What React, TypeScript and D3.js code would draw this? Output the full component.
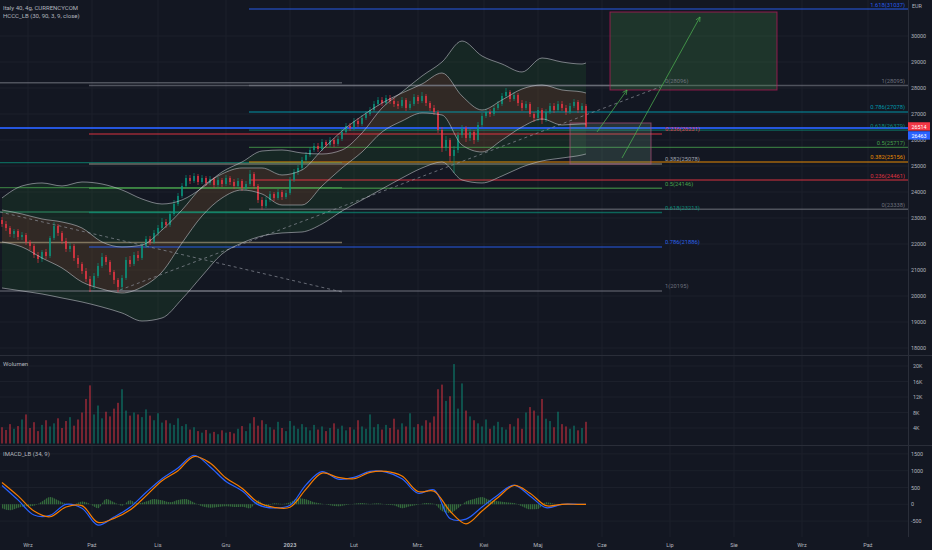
import * as d3 from "d3";

// ---- price data (4h bars, EUR) ----
const firstOpen = 22924;
const closes = [
  22770, 22616, 22385, 22500, 22270, 22347, 22078, 21924, 21577, 21424,
  21693, 21539, 22232, 22693, 22424, 22116, 21809, 21924, 21462, 21232,
  20962, 20655, 20385, 20770, 21155, 21500, 21309, 20924, 20616, 20347,
  20693, 21385, 21232, 21577, 21462, 21924, 22193, 22078, 22424, 22616,
  22847, 22732, 23154, 23539, 23847, 24232, 24539, 24424, 24616, 24385,
  24539, 24347, 24501, 24270, 24462, 24308, 24539, 24385, 24232, 24424,
  24155, 24308, 24693, 24232, 23693, 23462, 23693, 23924, 23770, 24000,
  23808, 23962, 24462, 24770, 24924, 25231, 25424, 25616, 25770, 25654,
  25923, 25808, 26000, 25847, 26039, 26308, 26539, 26462, 26731, 26616,
  26847, 27000, 27154, 27385, 27539, 27423, 27616, 27500, 27385, 27308,
  27539, 27231, 27385, 27654, 27500, 27693, 27423, 27231, 27077, 26385,
  25693, 26000, 25385, 25616, 26193, 26462, 26077, 26308, 26000, 26577,
  26924, 27077, 27000, 27231, 27385, 27693, 27847, 27577, 27731, 27423,
  27231, 27385, 27000, 26847, 27154, 26770, 27077, 27308, 27154, 27385,
  27231, 27077, 27308, 27462, 27154, 27308, 26514,
];
const highs = [
  23039, 22885, 22693, 22578, 22578, 22462, 22424, 22155, 22001, 21693,
  21770, 21809, 22309, 22847, 22770, 22500, 22232, 22039, 22001, 21577,
  21309, 21078, 20770, 20885, 21270, 21655, 21577, 21385, 21001, 20693,
  20809, 21500, 21539, 21693, 21732, 22039, 22309, 22309, 22539, 22732,
  23001, 22962, 23270, 23693, 23962, 24347, 24655, 24655, 24731, 24693,
  24655, 24616, 24616, 24578, 24578, 24539, 24655, 24616, 24501, 24539,
  24501, 24424, 24847, 24770, 24308, 23808, 23808, 24039, 24000, 24116,
  24078, 24078, 24578, 24885, 25039, 25347, 25539, 25731, 25885, 25885,
  26039, 26000, 26116, 26077, 26154, 26424, 26654, 26654, 26847, 26847,
  26962, 27116, 27270, 27500, 27654, 27654, 27731, 27731, 27616, 27500,
  27654, 27616, 27500, 27770, 27731, 27847, 27770, 27500, 27347, 27154,
  26501, 26154, 26077, 25770, 26308, 26577, 26539, 26424, 26385, 26693,
  27039, 27193, 27193, 27347, 27500, 27808, 28000, 27924, 27847, 27808,
  27539, 27500, 27462, 27077, 27270, 27231, 27193, 27423, 27423, 27500,
  27500, 27347, 27423, 27577, 27539, 27423, 27385,
];
const lows = [
  22655, 22500, 22270, 22232, 22155, 22155, 21962, 21770, 21462, 21270,
  21309, 21424, 21462, 22155, 22309, 22001, 21693, 21693, 21347, 21078,
  20847, 20539, 20155, 20270, 20693, 21078, 21193, 20809, 20462, 20155,
  20232, 20616, 21116, 21155, 21347, 21385, 21847, 21962, 22001, 22309,
  22539, 22616, 22655, 23078, 23462, 23770, 24155, 24308, 24347, 24270,
  24308, 24232, 24270, 24155, 24193, 24193, 24232, 24270, 24116, 24155,
  24039, 24078, 24232, 24116, 23577, 23308, 23385, 23616, 23654, 23693,
  23693, 23731, 23885, 24385, 24655, 24847, 25154, 25347, 25539, 25539,
  25577, 25693, 25731, 25731, 25770, 25962, 26231, 26347, 26385, 26501,
  26539, 26770, 26924, 27077, 27308, 27308, 27347, 27385, 27270, 27193,
  27231, 27116, 27154, 27308, 27385, 27423, 27308, 27116, 26962, 26270,
  25539, 25577, 25154, 24731, 25500, 26077, 25923, 25962, 25847, 25923,
  26501, 26847, 26885, 26924, 27154, 27308, 27616, 27462, 27500, 27308,
  27116, 27154, 26885, 26693, 26731, 26616, 26693, 27000, 27039, 27077,
  27116, 26962, 27000, 27231, 27039, 27039, 26462,
];
// volume in thousands per bar
const volumes = [
  4.2, 3.5, 5.0, 3.8, 4.5, 6.2, 7.5, 4.0, 5.5, 3.2, 4.8, 6.0, 4.4,
  5.2, 6.5, 4.0, 5.8, 6.8, 4.6, 6.2, 8.0, 11.5, 15.0, 7.5, 9.8,
  6.5, 8.2, 7.0, 9.0, 10.5, 14.0, 8.5, 7.2, 8.0, 7.5, 6.8, 8.8, 7.2, 6.0, 7.8, 5.4,
  6.0, 5.2, 4.8, 6.5, 4.5, 5.0, 3.6, 4.2, 3.2, 2.8, 3.5, 2.6, 3.0, 2.4, 3.4, 2.8,
  3.0, 2.6, 3.8, 4.5, 3.2, 5.2, 6.8, 4.6, 6.0, 5.0, 4.2, 3.6, 5.6, 4.0, 3.2, 5.8,
  4.6, 3.8, 5.0, 4.2, 3.4, 4.8, 3.6, 4.4, 3.2, 4.0, 5.2, 3.8, 4.6, 3.4, 4.2, 3.6,
  6.0, 4.4, 3.8, 7.5, 4.2, 5.0, 3.6, 4.8, 4.0, 6.4, 3.6, 5.2, 4.4, 7.8, 4.2, 5.0,
  4.6, 6.0, 5.4, 7.0, 14.0, 15.2, 11.0, 12.2, 20.5, 9.0, 15.5, 8.5,
  7.0, 6.0, 5.2, 4.4, 6.2, 3.8, 4.6, 5.6, 4.2, 3.6, 5.0, 4.4, 6.5, 3.8, 8.0, 9.4,
  8.5, 7.2, 11.5, 6.4, 5.8, 4.2, 8.2, 5.0, 4.4, 3.8, 4.6, 3.4, 4.0, 5.6,
];

// ---- HCCC_LB bands, sampled every 5 bars ----
const bandBars = [0, 5, 10, 15, 20, 25, 30, 35, 40, 45, 50, 55, 60, 65, 70, 75, 80, 85, 90, 95, 100, 105, 110, 115, 120, 125, 130, 135, 140, 145, 146];
const outerUpper = [23770, 24232, 24347, 24232, 24385, 24308, 24078, 23731, 23539, 23693, 24155, 24770, 25154, 25577, 25616, 25500, 25462, 25616, 26270, 27231, 27847, 28462, 29000, 29808, 29231, 28923, 28616, 29154, 29000, 28923, 28962];
const outerLower = [20309, 20193, 20078, 19924, 19770, 19578, 19347, 19039, 19155, 19885, 20770, 21616, 22039, 22309, 22424, 22462, 22770, 23270, 23693, 24116, 24539, 24924, 25154, 24462, 24347, 24616, 24962, 25193, 25308, 25424, 25462];
const innerUpper = [23308, 23154, 22962, 22847, 22616, 22078, 21886, 21962, 22539, 23308, 24193, 24693, 24924, 24924, 24655, 24847, 25616, 26347, 26924, 27423, 27808, 28154, 28577, 27693, 27154, 27539, 27962, 28116, 27924, 27847, 27808];
const innerLower = [22078, 21886, 21462, 21078, 20539, 20270, 20116, 20347, 20924, 22039, 23078, 23770, 24078, 23924, 23500, 23500, 24232, 24924, 25539, 26308, 26731, 27039, 26962, 25808, 25539, 26000, 26501, 26808, 26577, 26616, 26616];

// ---- IMACD_LB (34, 9), sampled every 4 bars ----
const macdBars = [0, 4, 8, 12, 16, 20, 24, 28, 32, 36, 40, 44, 48, 52, 56, 60, 64, 68, 72, 76, 80, 84, 88, 92, 96, 100, 104, 108, 112, 116, 120, 124, 128, 132, 136, 140, 144, 146];
const macdLine = [560, 130, -320, -330, 0, -120, -620, -380, -90, 350, 760, 1080, 1460, 1120, 680, 400, -10, -110, -30, 580, 970, 750, 800, 980, 960, 760, 330, 430, -420, -440, -80, 280, 570, 250, -100, 0, 0, 0];
const signalLine = [650, 250, -200, -370, -80, -40, -540, -420, -170, 250, 700, 1000, 1420, 1230, 780, 480, 60, -90, -90, 450, 930, 800, 760, 950, 980, 840, 380, 390, -200, -580, -200, 200, 560, 330, -40, 0, 0, 0];
// histogram every 2 bars
const histogram = [
  -120, -180, -100, -60, -40, 80, 220, 120, 20, 0,
  80, 10, -120, 160, 60, -40, 120, 20, 80, 160,
  120, 60, 130, 160, 50, -60, -100, -80, -60, -80,
  -70, -120, 120, -80, 30, 10, 60, 180, 150, 60,
  20, -30, -60, -20, 20, 40, 10, 30, -10, -30,
  -120, -60, -10, 40, 20, -200, -260, -120, 80, 160,
  220, 120, 90, 60, 40, -60, -150, -140, 60, 20,
  0, 0, 0, 0,
];

// ---- axes ----
const monthLabels = ["Wrz", "Paź", "Lis", "Gru", "2023", "Lut", "Mrz.", "Kwi", "Maj", "Cze", "Lip", "Sie", "Wrz", "Paź"];
const monthBars = [6.5, 22.5, 39, 56, 72, 88, 104, 120.5, 134, 150, 167, 183, 200, 216.5];
const priceTicks = [30000, 29000, 28000, 27000, 26000, 25000, 24000, 23000, 22000, 21000, 20000, 19000, 18000];
const volumeTicks = [4000, 8000, 12000, 16000, 20000];
const macdTicks = [1500, 1000, 500, 0, -500];

// ---- drawings ----
const fibALevels = [0, 0.236, 0.382, 0.5, 0.618, 0.786, 1];
const fibAPrices = [28096, 26231, 25078, 24146, 23213, 21886, 20195];
const fibAColors = ["#787b86", "#f23645", "#a39c8e", "#4caf50", "#089981", "#2962ff", "#787b86"];
const fibAText = ["#787b86", "#f23645", "#b2b5be", "#4caf50", "#089981", "#2f6bff", "#787b86"];
const fibAStart = 21.75, fibAEnd = 165;

const fibBPrices = [20195, 22060, 23230, 24170, 25130, 28200];
const fibBColors = ["#787b86", "#b8a886", "#2e9e6e", "#4caf50", "#089981", "#787b86"];
const fibBEnd = 85;

const fibCLevels = [0, 0.236, 0.382, 0.5, 0.618, 0.786, 1, 1.618];
const fibCPrices = [23338, 24461, 25156, 25717, 26379, 27078, 28095, 31037];
const fibCColors = ["#787b86", "#f23645", "#ff9800", "#4caf50", "#089981", "#00a3b8", "#787b86", "#2962ff"];
const fibCStart = 61.75;

const horizontalLine = 26463;
const lastPrice = 26514;

const BG = "#131722";
const TEXT = "#b2b5be";
const FONT = "Roboto, 'Liberation Sans', sans-serif";
const CHART_R = 908;

const App = () => {
  const x = d3.scaleLinear().domain([-0.5, 226.5]).range([0, CHART_R]);
  const y = d3.scaleLinear().domain([18000, 30000]).range([348, 36]);
  const yVol = d3.scaleLinear().domain([0, 20000]).range([443.5, 366]);
  const yMacd = d3.scaleLinear().domain([-500, 1500]).range([521.1, 453.9]);

  const bands = bandBars.map((b, k) => ({
    b,
    ou: outerUpper[k],
    ol: outerLower[k],
    iu: innerUpper[k],
    il: innerLower[k],
  }));
  const curve = d3.curveMonotoneX;
  const outerArea = d3.area<typeof bands[0]>().x((d) => x(d.b)).y0((d) => y(d.ol)).y1((d) => y(d.ou)).curve(curve);
  const innerArea = d3.area<typeof bands[0]>().x((d) => x(d.b)).y0((d) => y(d.il)).y1((d) => y(d.iu)).curve(curve);
  const bandLine = (key: "ou" | "ol" | "iu" | "il") =>
    d3.line<typeof bands[0]>().x((d) => x(d.b)).y((d) => y(d[key])).curve(curve)(bands) || "";

  const candles = closes.map((c, i) => {
    const o = i === 0 ? firstOpen : closes[i - 1];
    return { i, o, c, h: Math.max(highs[i], o, c), l: Math.min(lows[i], o, c) };
  });
  const bodyW = 2;

  const macdPts = macdBars.map((b, k) => ({ b, m: macdLine[k], s: signalLine[k] }));
  const macdPath = d3.line<typeof macdPts[0]>().x((d) => x(d.b)).y((d) => yMacd(d.m)).curve(d3.curveCatmullRom)(macdPts) || "";
  const signalPath = d3.line<typeof macdPts[0]>().x((d) => x(d.b)).y((d) => yMacd(d.s)).curve(d3.curveCatmullRom)(macdPts) || "";
  const histArea =
    d3
      .area<number>()
      .x((_, k) => x(k * 2))
      .y0(yMacd(0))
      .y1((d) => yMacd(d))
      .curve(d3.curveMonotoneX)(histogram) || "";

  const fibLine = (x0: number, x1: number, p: number, color: string, key: string) => (
    <line key={key} x1={x(x0)} x2={x(x1)} y1={y(p)} y2={y(p)} stroke={color} strokeWidth={1.4} strokeOpacity={0.6} />
  );

  const arrow = (b0: number, p0: number, b1: number, p1: number, key: string) => {
    const x0 = x(b0), y0 = y(p0), x1 = x(b1), y1 = y(p1);
    const a = Math.atan2(y1 - y0, x1 - x0);
    const s = 5;
    const head = `M${x1 - s * Math.cos(a - 0.45)},${y1 - s * Math.sin(a - 0.45)}L${x1},${y1}L${x1 - s * Math.cos(a + 0.45)},${y1 - s * Math.sin(a + 0.45)}`;
    return (
      <g key={key} stroke="#4caf50" strokeOpacity={0.75} fill="none" strokeWidth={1}>
        <line x1={x0} y1={y0} x2={x1} y2={y1} />
        <path d={head} />
      </g>
    );
  };

  return (
    <svg
      width={932}
      height={550}
      style={{ position: "fixed", left: 0, top: 0, background: BG, fontFamily: FONT }}
    >
      <defs>
        <clipPath id="mainClip">
          <rect x={0} y={0} width={CHART_R} height={355} />
        </clipPath>
        <clipPath id="volClip">
          <rect x={0} y={356} width={CHART_R} height={89} />
        </clipPath>
        <clipPath id="macdClip">
          <rect x={0} y={446} width={CHART_R} height={91} />
        </clipPath>
        <pattern id="histStripes" width={2} height={4} patternUnits="userSpaceOnUse">
          <rect x={0} y={0} width={1.3} height={4} fill="#4caf50" fillOpacity={0.55} />
        </pattern>
      </defs>
      <rect x={0} y={0} width={932} height={550} fill={BG} />

      {/* grid */}
      <g stroke="#1c202b" strokeWidth={1}>
        {monthBars.map((b, k) => (
          <line key={`vg${k}`} x1={x(b)} x2={x(b)} y1={0} y2={537} />
        ))}
        {priceTicks.map((p) => (
          <line key={`hg${p}`} x1={0} x2={CHART_R} y1={y(p)} y2={y(p)} />
        ))}
        {volumeTicks.map((v) => (
          <line key={`vgv${v}`} x1={0} x2={CHART_R} y1={yVol(v)} y2={yVol(v)} />
        ))}
        {macdTicks.map((v) => (
          <line key={`mg${v}`} x1={0} x2={CHART_R} y1={yMacd(v)} y2={yMacd(v)} />
        ))}
      </g>

      {/* main pane */}
      <g clipPath="url(#mainClip)">
        <path d={outerArea(bands) || ""} fill="#2e7d32" fillOpacity={0.16} />
        <path d={innerArea(bands) || ""} fill="#c0392b" fillOpacity={0.16} />

        {/* fib B (left, no labels) */}
        {fibBPrices.map((p, k) => fibLine(-0.5, fibBEnd, p, fibBColors[k], `fb${k}`))}
        {/* fib A */}
        {fibAPrices.map((p, k) => fibLine(fibAStart, fibAEnd, p, fibAColors[k], `fa${k}`))}
        {/* fib C */}
        {fibCPrices.map((p, k) => fibLine(fibCStart, 226.5, p, fibCColors[k], `fc${k}`))}

        <line x1={0} x2={CHART_R} y1={y(horizontalLine)} y2={y(horizontalLine)} stroke="#2962ff" strokeWidth={2} strokeOpacity={0.85} />

        {/* rectangles */}
        <rect
          x={x(152)}
          y={y(30923)}
          width={x(193.75) - x(152)}
          height={y(27924) - y(30923)}
          fill="#4caf50"
          fillOpacity={0.2}
          stroke="#c2185b"
          strokeOpacity={0.7}
          strokeWidth={1}
        />
        <rect
          x={x(142)}
          y={y(26654)}
          width={x(162.25) - x(142)}
          height={y(25077) - y(26654)}
          fill="#6fa082"
          fillOpacity={0.22}
          stroke="#b0507a"
          strokeOpacity={0.7}
          strokeWidth={1}
        />

        {/* dashed trend lines */}
        <g stroke="#8a8e99" strokeWidth={1} strokeDasharray="3 3" strokeOpacity={0.7}>
          <line x1={x(-0.5)} y1={y(23231)} x2={x(85)} y2={y(20154)} />
          <line x1={x(29.5)} y1={y(20231)} x2={x(164.5)} y2={y(28039)} />
        </g>

        {arrow(148.75, 26308, 156.25, 27923, "a1")}
        {arrow(155, 25308, 174.5, 30731, "a2")}

        {/* candles */}
        {candles.map((d) => {
          const up = d.c >= d.o;
          const col = up ? "#089981" : "#f23645";
          const cx = x(d.i);
          const top = y(Math.max(d.o, d.c));
          const h = Math.max(0.8, y(Math.min(d.o, d.c)) - top);
          return (
            <g key={`c${d.i}`} opacity={0.8}>
              <line x1={cx} x2={cx} y1={y(d.h)} y2={y(d.l)} stroke={col} strokeWidth={0.8} />
              <rect x={cx - bodyW / 2} y={top} width={bodyW} height={h} fill={col} />
            </g>
          );
        })}

        {/* band lines */}
        <g fill="none" stroke="#c9cbd1" strokeOpacity={0.62} strokeWidth={0.9}>
          <path d={bandLine("ou")} />
          <path d={bandLine("ol")} />
          <path d={bandLine("iu")} />
          <path d={bandLine("il")} />
        </g>
      </g>

      {/* fib labels */}
      <g fontSize={5.8} opacity={0.9}>
        {fibALevels.map((lv, k) => (
          <text key={`fal${k}`} x={x(fibAEnd) + 3} y={y(fibAPrices[k]) - 2.5} fill={fibAText[k]}>
            {`${lv}(${fibAPrices[k]})`}
          </text>
        ))}
        {fibCLevels.map((lv, k) => (
          <text key={`fcl${k}`} x={905} y={y(fibCPrices[k]) - 2.5} fill={fibCColors[k]} textAnchor="end">
            {`${lv}(${fibCPrices[k]})`}
          </text>
        ))}
      </g>

      {/* volume pane */}
      <g clipPath="url(#volClip)">
        {candles.map((d) => (
          <rect
            key={`v${d.i}`}
            x={x(d.i) - 1}
            y={yVol(volumes[d.i] * 1000)}
            width={2}
            height={yVol(0) - yVol(volumes[d.i] * 1000)}
            fill={d.c >= d.o ? "#089981" : "#f23645"}
            fillOpacity={0.45}
          />
        ))}
      </g>

      {/* macd pane */}
      <g clipPath="url(#macdClip)">
        <path d={histArea} fill="url(#histStripes)" />
        <path d={macdPath} fill="none" stroke="#2962ff" strokeWidth={1.2} />
        <path d={signalPath} fill="none" stroke="#f57c00" strokeWidth={1.2} />
      </g>

      {/* pane separators */}
      <g stroke="#2a2e39" strokeWidth={1}>
        <line x1={0} x2={932} y1={355.5} y2={355.5} />
        <line x1={0} x2={932} y1={445.5} y2={445.5} />
        <line x1={CHART_R + 0.5} x2={CHART_R + 0.5} y1={0} y2={537} />
      </g>

      {/* price axis */}
      <g fontSize={5.4} fill={TEXT}>
        <text x={912} y={8}>EUR</text>
        {priceTicks.map((p) => (
          <text key={`pt${p}`} x={911} y={y(p) + 2}>
            {p}
          </text>
        ))}
        {volumeTicks.map((v) => (
          <text key={`vt${v}`} x={913} y={yVol(v) + 2}>
            {`${v / 1000}K`}
          </text>
        ))}
        {macdTicks.map((v) => (
          <text key={`mt${v}`} x={911} y={yMacd(v) + 2}>
            {v}
          </text>
        ))}
      </g>
      <rect x={908} y={y(lastPrice) - 4.4} width={22} height={8.4} fill="#f23645" />
      <text x={919} y={y(lastPrice) + 1.9} fontSize={5.4} fill="#fff" textAnchor="middle">
        {lastPrice}
      </text>
      <rect x={908} y={y(lastPrice) + 4.6} width={22} height={8.4} fill="#2962ff" />
      <text x={919} y={y(lastPrice) + 10.9} fontSize={5.4} fill="#fff" textAnchor="middle">
        {horizontalLine}
      </text>

      {/* time axis */}
      <g fontSize={5.6} fill={TEXT} textAnchor="middle">
        {monthLabels.map((m, k) => (
          <text key={`m${k}`} x={x(monthBars[k])} y={547} fontWeight={m === "2023" ? 700 : 400}>
            {m}
          </text>
        ))}
      </g>

      {/* pane titles */}
      <g fontSize={6} fill={TEXT}>
        <text x={3} y={9.5}>Italy 40, 4g, CURRENCYCOM</text>
        <text x={3} y={17.5}>HCCC_LB (30, 90, 3, 9, close)</text>
        <text x={3} y={366}>Wolumen</text>
        <text x={3} y={456}>IMACD_LB (34, 9)</text>
      </g>
    </svg>
  );
};

export default App;
